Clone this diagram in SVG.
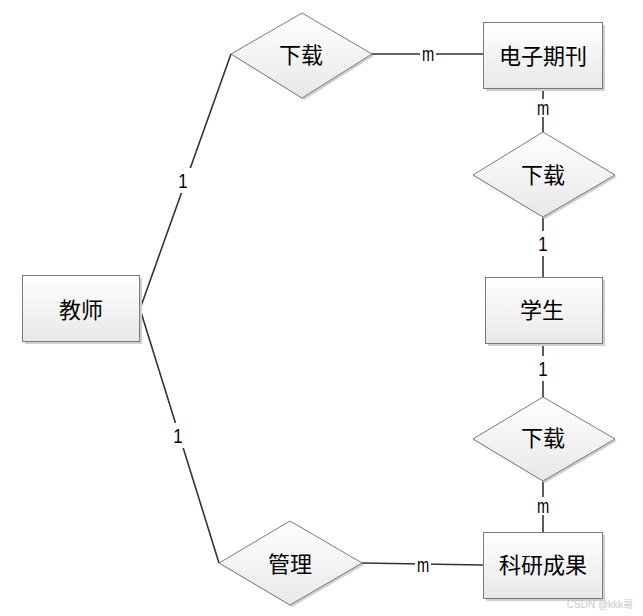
<svg xmlns="http://www.w3.org/2000/svg" width="643" height="616" viewBox="0 0 643 616">
<defs>
<linearGradient id="g" x1="0" y1="0" x2="0" y2="1">
<stop offset="0" stop-color="#ffffff"/>
<stop offset="1" stop-color="#e8e8e8"/>
</linearGradient>
<style>
.box{fill:url(#g);stroke:#7a7a7a;stroke-width:1}
.sh{fill:#cfcfcf}
.t{font-family:"Noto Sans CJK SC","Microsoft YaHei",sans-serif;font-size:22px;fill:#000;text-anchor:middle;dominant-baseline:central}
.ln{stroke:#333;stroke-width:1.6;fill:none}
.lb{font-family:"Liberation Sans",Arial,sans-serif;font-size:21px;fill:#000;text-anchor:middle;dominant-baseline:central}
.bg{fill:#fff}
</style>
</defs>
<rect width="643" height="616" fill="#fff"/>
<g id="connectors">
<polyline class="ln" points="231,54 140,309 219,563"/>
<line class="ln" x1="372" y1="54" x2="483" y2="54"/>
<line class="ln" x1="543" y1="88" x2="543" y2="132"/>
<line class="ln" x1="543" y1="217" x2="543" y2="277"/>
<line class="ln" x1="543" y1="343" x2="543" y2="397"/>
<line class="ln" x1="543" y1="481" x2="543" y2="532"/>
<line class="ln" x1="362" y1="563" x2="483" y2="565"/>
<rect class="bg" x="174" y="168" width="18" height="25"/>
<text class="lb" transform="translate(183 181) scale(0.8 1)">1</text>
<rect class="bg" x="169" y="423" width="18" height="25"/>
<text class="lb" transform="translate(178 436) scale(0.8 1)">1</text>
<rect class="bg" x="420" y="46" width="16" height="16"/>
<text class="lb" transform="translate(428 54) scale(0.7 1)">m</text>
<rect class="bg" x="535" y="99" width="16" height="18"/>
<text class="lb" transform="translate(543 108) scale(0.7 1)">m</text>
<rect class="bg" x="534" y="231" width="18" height="25"/>
<text class="lb" transform="translate(543 244) scale(0.8 1)">1</text>
<rect class="bg" x="534" y="356" width="18" height="25"/>
<text class="lb" transform="translate(543 369) scale(0.8 1)">1</text>
<rect class="bg" x="535" y="497" width="16" height="18"/>
<text class="lb" transform="translate(543 506) scale(0.7 1)">m</text>
<rect class="bg" x="415" y="556" width="16" height="17"/>
<text class="lb" transform="translate(423 565) scale(0.7 1)">m</text>
</g>
<g id="teacher">
<rect class="sh" x="25" y="278" width="117" height="66"/>
<rect class="box" x="22.5" y="275.5" width="117" height="66"/>
<text class="t" x="81" y="308">教师</text>
</g>
<g id="download1">
<polygon class="sh" points="304,15 374,56 304,100 233,56"/>
<polygon class="box" points="302,13 372,54 302,98 231,54"/>
<text class="t" x="301" y="53">下载</text>
</g>
<g id="journal">
<rect class="sh" x="486" y="25" width="119" height="66"/>
<rect class="box" x="483.5" y="22.5" width="119" height="66"/>
<text class="t" x="543" y="54">电子期刊</text>
</g>
<g id="download2">
<polygon class="sh" points="545,134 617,177 545,219 475,177"/>
<polygon class="box" points="543,132 615,175 543,217 473,175"/>
<text class="t" x="543" y="173">下载</text>
</g>
<g id="student">
<rect class="sh" x="488" y="280" width="117" height="66"/>
<rect class="box" x="485.5" y="277.5" width="117" height="66"/>
<text class="t" x="542" y="308">学生</text>
</g>
<g id="download3">
<polygon class="sh" points="545,399 617,441 545,483 475,441"/>
<polygon class="box" points="543,397 615,439 543,481 473,439"/>
<text class="t" x="543" y="436">下载</text>
</g>
<g id="research">
<rect class="sh" x="486" y="535" width="119" height="66"/>
<rect class="box" x="483.5" y="532.5" width="119" height="66"/>
<text class="t" x="543" y="563">科研成果</text>
</g>
<g id="manage">
<polygon class="sh" points="292,523 364,565 292,607 221,565"/>
<polygon class="box" points="290,521 362,563 290,605 219,563"/>
<text class="t" x="290" y="562">管理</text>
</g>
<text x="600" y="608" font-family="'Liberation Sans','Noto Sans CJK SC',sans-serif" font-size="10" fill="#c8c8c8" text-anchor="middle">CSDN @kkk哥</text>
</svg>
